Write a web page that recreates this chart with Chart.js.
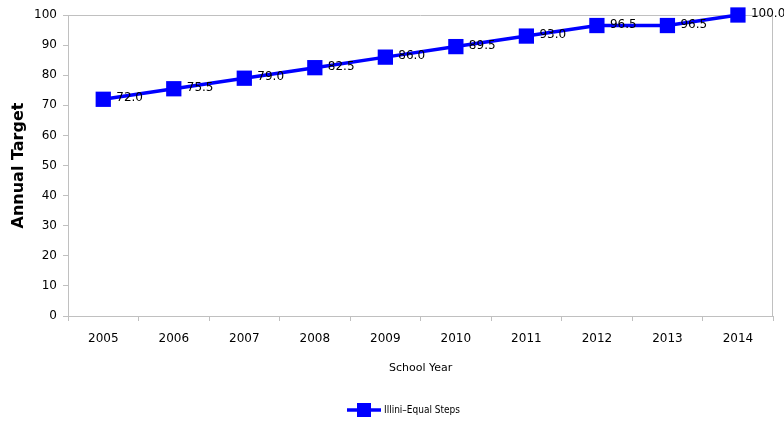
<!DOCTYPE html>
<html>
<head>
<meta charset="utf-8">
<script src="https://cdn.jsdelivr.net/npm/chart.js@4.4.1/dist/chart.umd.min.js"></script>
<style>
  html, body { margin: 0; padding: 0; background: #ffffff; }
  #wrap { width: 784px; height: 422px; }
</style>
</head>
<body>
<div id="wrap"><canvas id="chart" width="784" height="422"></canvas></div>
<script>
// School years on the category axis
const schoolYears = ['2005', '2006', '2007', '2008', '2009', '2010', '2011', '2012', '2013', '2014'];
// Annual target for each year (percent)
const annualTargets = [72.0, 75.5, 79.0, 82.5, 86.0, 89.5, 93.0, 96.5, 96.5, 100.0];
const seriesName = 'Illini–Equal Steps';

const BLUE = '#0000ff';
const AXIS_GREY = '#c0c0c0';

// Legend symbol: a short line with the square marker on top
function legendSymbol() {
  const c = document.createElement('canvas');
  c.width = 34; c.height = 16;
  const g = c.getContext('2d');
  g.strokeStyle = BLUE;
  g.lineWidth = 3.5;
  g.beginPath(); g.moveTo(0, 8); g.lineTo(34, 8); g.stroke();
  g.fillStyle = BLUE;
  g.fillRect(10, 1, 14, 14);
  return c;
}

// Closes the plot frame on the top and right sides
const frame = {
  id: 'frame',
  beforeDatasetsDraw(chart) {
    const { ctx, chartArea: a } = chart;
    ctx.save();
    ctx.strokeStyle = AXIS_GREY;
    ctx.lineWidth = 1;
    ctx.beginPath();
    ctx.moveTo(Math.round(a.left) + 0.5, Math.round(a.top) + 0.5);
    ctx.lineTo(Math.round(a.right) - 0.5, Math.round(a.top) + 0.5);
    ctx.lineTo(Math.round(a.right) - 0.5, Math.round(a.bottom));
    ctx.stroke();
    ctx.restore();
  }
};

// Nudges the legend a little to the right of the canvas centre
const legendShift = {
  id: 'legendShift',
  afterLayout(chart) {
    if (chart.legend) {
      chart.legend.left += 17;
      chart.legend.right += 17;
    }
  }
};

// Value labels to the right of each marker
const valueLabels = {
  id: 'valueLabels',
  afterDatasetsDraw(chart) {
    const { ctx } = chart;
    ctx.save();
    ctx.font = '12px "DejaVu Sans", sans-serif';
    ctx.fillStyle = '#000000';
    ctx.textAlign = 'left';
    ctx.textBaseline = 'middle';
    chart.data.datasets.forEach((ds, i) => {
      const meta = chart.getDatasetMeta(i);
      meta.data.forEach((pt, j) => {
        ctx.fillText(ds.data[j].toFixed(1), pt.x + 13, pt.y - 1);
      });
    });
    ctx.restore();
  }
};

new Chart(document.getElementById('chart'), {
  type: 'line',
  data: {
    labels: schoolYears,
    datasets: [{
      label: seriesName,
      data: annualTargets,
      borderColor: BLUE,
      backgroundColor: BLUE,
      borderWidth: 3.5,
      pointStyle: 'rect',
      pointRadius: 10.8,
      pointHoverRadius: 10.8,
      pointBorderWidth: 0,
      pointBackgroundColor: BLUE,
      tension: 0,
      clip: false
    }]
  },
  options: {
    responsive: false,
    animation: false,
    devicePixelRatio: 1,
    layout: { padding: { top: 15, right: 9, left: 0, bottom: -3 } },
    scales: {
      x: {
        type: 'category',
        offset: true,
        grid: {
          offset: true,
          drawOnChartArea: false,
          drawTicks: true,
          tickLength: 5,
          tickColor: AXIS_GREY
        },
        border: { color: AXIS_GREY, width: 1 },
        ticks: {
          color: '#000000',
          padding: 11,
          maxRotation: 0,
          font: { family: '"DejaVu Sans", sans-serif', size: 12 }
        },
        title: {
          display: true,
          text: 'School Year',
          color: '#000000',
          font: { family: '"DejaVu Sans", sans-serif', size: 11 },
          padding: { top: 4, bottom: 20 }
        },
        afterFit(scale) { scale.height = 79; }
      },
      y: {
        min: 0,
        max: 100,
        grid: {
          drawOnChartArea: false,
          drawTicks: true,
          tickLength: 5,
          tickColor: AXIS_GREY
        },
        border: { color: AXIS_GREY, width: 1 },
        ticks: {
          stepSize: 10,
          color: '#000000',
          padding: 6,
          font: { family: '"DejaVu Sans", sans-serif', size: 12 }
        },
        title: {
          display: true,
          text: 'Annual Target',
          color: '#000000',
          font: { family: '"DejaVu Sans", sans-serif', size: 16, weight: 'bold' },
          padding: { top: 9, bottom: 0 }
        },
        afterFit(scale) { scale.width = 68; }
      }
    },
    plugins: {
      legend: {
        display: true,
        position: 'bottom',
        labels: {
          usePointStyle: true,
          pointStyle: legendSymbol(),
          pointStyleWidth: 30,
          padding: 10,
          color: '#000000',
          font: { family: '"DejaVu Sans Condensed", "DejaVu Sans", sans-serif', size: 10 }
        }
      },
      tooltip: { enabled: false }
    }
  },
  plugins: [frame, legendShift, valueLabels]
});
</script>
</body>
</html>
